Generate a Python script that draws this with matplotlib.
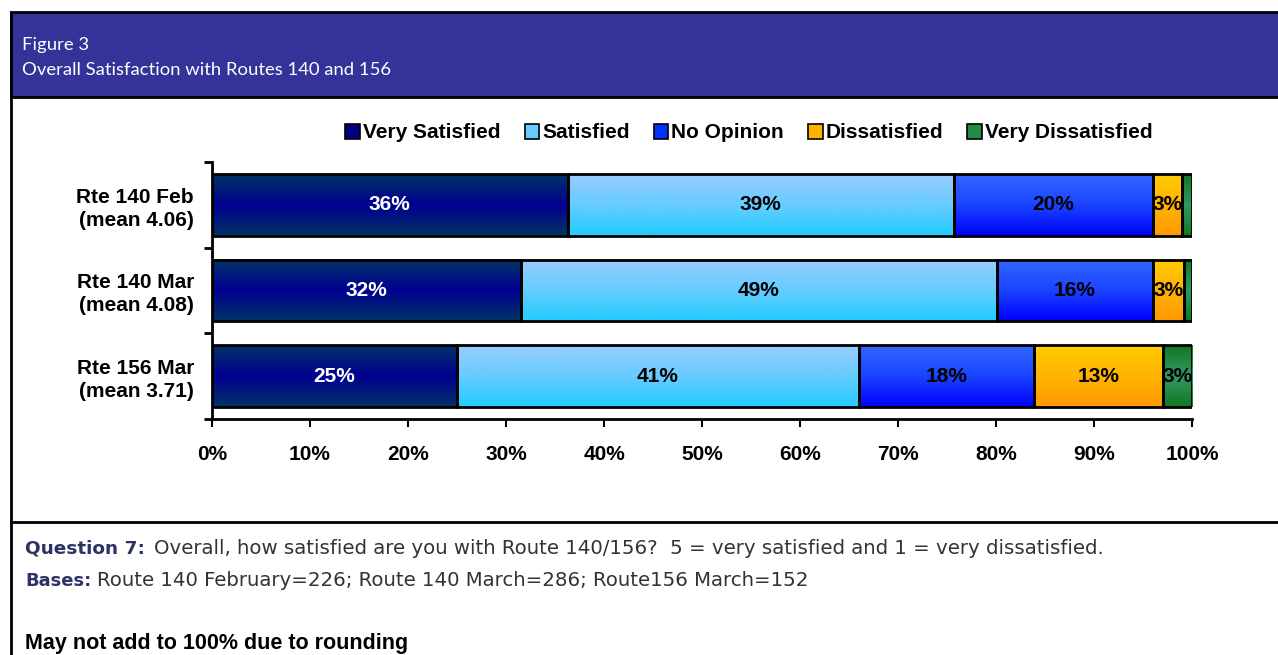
import matplotlib
matplotlib.use("Agg")
import matplotlib.pyplot as plt
from matplotlib.patches import Rectangle, Patch
from matplotlib.lines import Line2D
import matplotlib.colors as mcolors
import numpy as np

categories = ["Rte 140 Feb\n(mean 4.06)", "Rte 140 Mar\n(mean 4.08)", "Rte 156 Mar\n(mean 3.71)"]
series_names = ["Very Satisfied", "Satisfied", "No Opinion", "Dissatisfied", "Very Dissatisfied"]
very_satisfied = [36.3, 31.5, 25.0]
satisfied = [39.4, 48.6, 41.0]
no_opinion = [20.3, 15.9, 17.9]
dissatisfied = [3.0, 3.2, 13.1]
very_dissatisfied = [1.0, 0.8, 3.0]
label_very_satisfied = ["36%", "32%", "25%"]
label_satisfied = ["39%", "49%", "41%"]
label_no_opinion = ["20%", "16%", "18%"]
label_dissatisfied = ["3%", "3%", "13%"]
label_very_dissatisfied = ["", "", "3%"]
x_ticks = [0, 10, 20, 30, 40, 50, 60, 70, 80, 90, 100]
x_tick_labels = ["0%", "10%", "20%", "30%", "40%", "50%", "60%", "70%", "80%", "90%", "100%"]

series = [very_satisfied, satisfied, no_opinion, dissatisfied, very_dissatisfied]
labels = [label_very_satisfied, label_satisfied, label_no_opinion, label_dissatisfied, label_very_dissatisfied]
# gradient stops (top, middle, bottom)
grads = [
    ("#003366", "#000090", "#003366"),
    ("#99ccff", "#66ccff", "#22ccff"),
    ("#3366ff", "#1a44ff", "#0000ff"),
    ("#ffcc00", "#ffb300", "#ff9900"),
    ("#117722", "#339966", "#117722"),
]
solid = ["#000080", "#66ccff", "#0033ff", "#ffb300", "#228b44"]
text_colors = ["white", "black", "black", "black", "black"]

W, H = 1278, 655
fig = plt.figure(figsize=(W / 100, H / 100), dpi=100)
fig.patch.set_facecolor("white")

def fx(px):
    return px / W

def fy(py):
    return 1 - py / H

BOLD = {"family": "Liberation Sans", "weight": "bold"}

# header
fig.patches.append(Rectangle((fx(11), fy(97)), 1.2, fy(12) - fy(97), transform=fig.transFigure,
                             facecolor="#333399", edgecolor="black", linewidth=2, zorder=0))
fig.lines.append(Line2D([fx(11), fx(11)], [fy(12), 0], transform=fig.transFigure, color="black", linewidth=2))
fig.lines.append(Line2D([fx(11), 1], [fy(522), fy(522)], transform=fig.transFigure, color="black", linewidth=2))
fig.text(fx(22), fy(45), "Figure 3", color="white", fontsize=13.3, family="Lato", va="center", ha="left")
fig.text(fx(22), fy(70), "Overall Satisfaction with Routes 140 and 156", color="white", fontsize=13.3,
         family="Lato", va="center", ha="left")

ax = fig.add_axes([fx(212), fy(419), fx(1192) - fx(212), fy(162) - fy(419)])
ypos = np.arange(len(categories))
bar_h = 0.72
left = np.zeros(len(categories))
for i, vals in enumerate(series):
    bars = ax.barh(ypos, vals, left=left, height=bar_h, color="none", edgecolor="black", linewidth=2, zorder=3)
    cmap = mcolors.LinearSegmentedColormap.from_list("g%d" % i, list(grads[i]))
    grad = np.linspace(0, 1, 64).reshape(-1, 1)
    for b, lab in zip(bars, labels[i]):
        x0, y0, w, h = b.get_x(), b.get_y(), b.get_width(), b.get_height()
        ax.imshow(grad, cmap=cmap, aspect="auto", origin="upper",
                  extent=(x0, x0 + w, y0 + h, y0), zorder=2, interpolation="bilinear")
        if lab:
            ax.text(x0 + w / 2, y0 + h / 2, lab, ha="center", va="center", color=text_colors[i],
                    fontsize=15, zorder=4, **BOLD)
    left = left + np.array(vals)

ax.set_xlim(0, 100)
ax.set_ylim(len(categories) - 0.5, -0.5)
ax.set_xticks(x_ticks)
ax.set_xticklabels(x_tick_labels, fontsize=15, **BOLD)
ax.set_yticks(ypos)
ax.set_yticklabels(categories, fontsize=15, linespacing=1.25, **BOLD)
ax.set_yticks(np.arange(-0.5, len(categories), 1.0), minor=True)
ax.tick_params(axis="y", which="major", length=0, pad=13)
ax.tick_params(axis="y", which="minor", length=6, width=2, direction="out")
ax.tick_params(axis="x", which="major", length=6, width=1.5, direction="out", pad=13)
for s in ["top", "right"]:
    ax.spines[s].set_visible(False)
for s in ["left", "bottom"]:
    ax.spines[s].set_linewidth(2)
ax.set_facecolor("none")

handles = [Patch(facecolor=solid[i], edgecolor="black", linewidth=1.2) for i in range(len(series_names))]
fig.legend(handles, series_names, loc="center", bbox_to_anchor=(fx(749), fy(133)), ncol=5,
           frameon=False, handlelength=0.7, handleheight=0.7, handletextpad=0.15,
           columnspacing=1.15, prop={"family": "Liberation Sans", "weight": "bold", "size": 15})

# footer
fq = fig.text(fx(25), fy(548), "Question 7:", color="#2e3366", fontsize=13.3, family="DejaVu Sans",
              fontweight="bold", va="center", ha="left")
fig.canvas.draw()
bb = fq.get_window_extent()
fig.text(bb.x1 / W + fx(9), fy(548), "Overall, how satisfied are you with Route 140/156?  5 = very satisfied and 1 = very dissatisfied.",
         color="#333333", fontsize=14.2, family="DejaVu Sans", va="center", ha="left")
fb = fig.text(fx(25), fy(581), "Bases:", color="#2e3366", fontsize=13, family="DejaVu Sans",
              fontweight="bold", va="center", ha="left")
fig.canvas.draw()
bb = fb.get_window_extent()
fig.text(bb.x1 / W + fx(6), fy(581), "Route 140 February=226; Route 140 March=286; Route156 March=152",
         color="#333333", fontsize=14.2, family="DejaVu Sans", va="center", ha="left")
fig.text(fx(25), fy(644), "May not add to 100% due to rounding", color="black", fontsize=15.5,
         family="Liberation Sans", fontweight="bold", va="center", ha="left")

fig.savefig("out.png", dpi=100)
